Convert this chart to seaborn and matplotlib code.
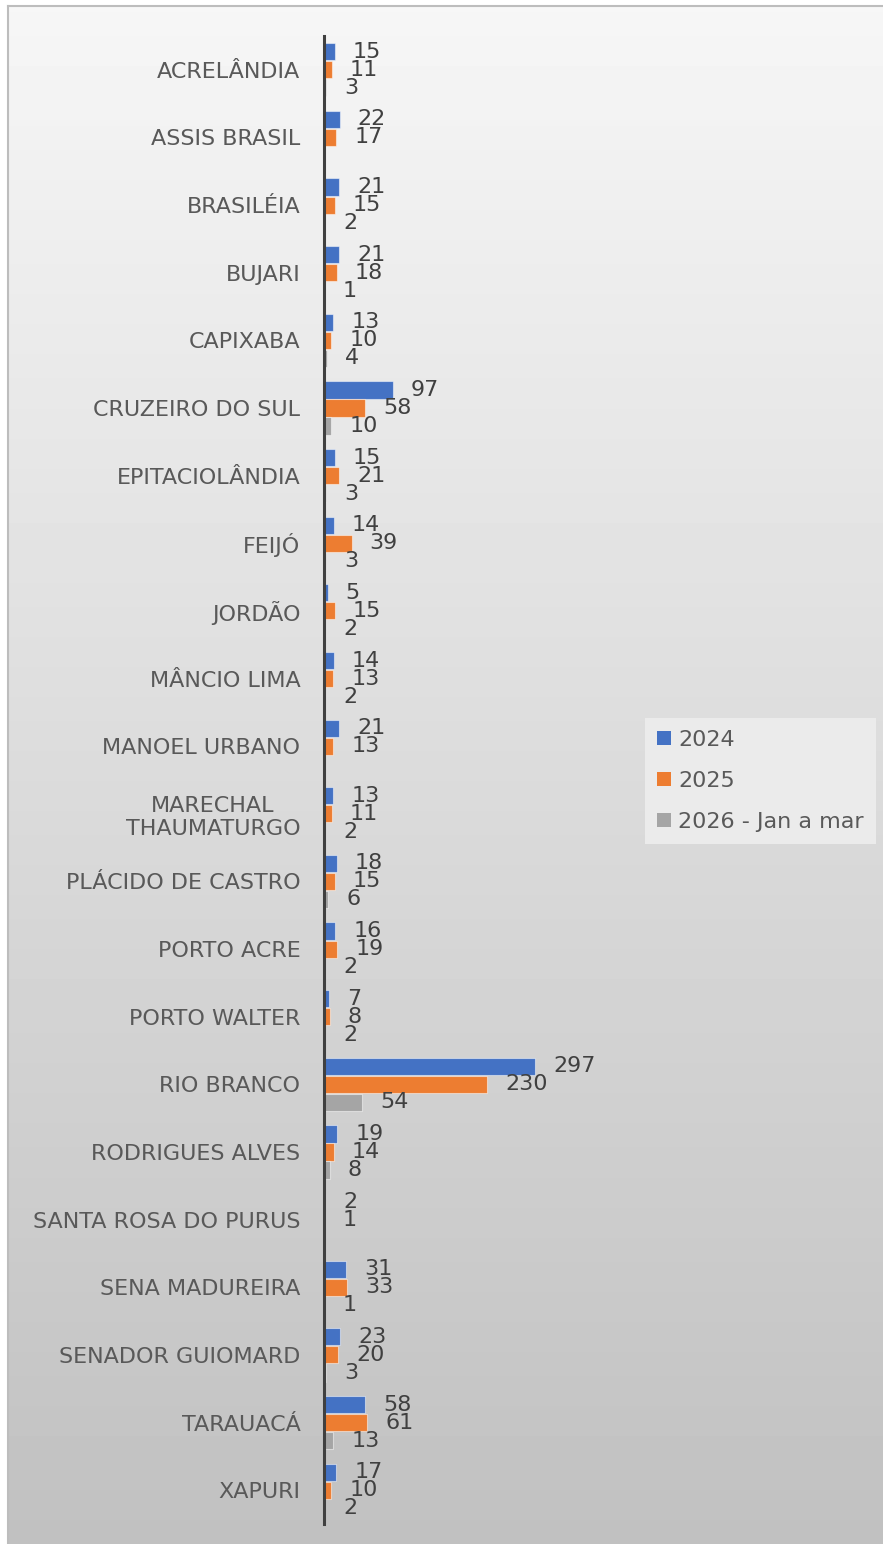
import numpy as np
import pandas as pd
import matplotlib
matplotlib.use("Agg")
import matplotlib.pyplot as plt
from matplotlib.patches import Patch
import seaborn as sns

municipios = [
    "ACRELÂNDIA", "ASSIS BRASIL", "BRASILÉIA", "BUJARI", "CAPIXABA",
    "CRUZEIRO DO SUL", "EPITACIOLÂNDIA", "FEIJÓ", "JORDÃO", "MÂNCIO LIMA",
    "MANOEL URBANO", "MARECHAL\nTHAUMATURGO", "PLÁCIDO DE CASTRO", "PORTO ACRE",
    "PORTO WALTER", "RIO BRANCO", "RODRIGUES ALVES", "SANTA ROSA DO PURUS",
    "SENA MADUREIRA", "SENADOR GUIOMARD", "TARAUACÁ", "XAPURI",
]
anos = ["2024", "2025", "2026 - Jan a mar"]
v2024 = [15, 22, 21, 21, 13, 97, 15, 14, 5, 14, 21, 13, 18, 16, 7, 297, 19, 2, 31, 23, 58, 17]
v2025 = [11, 17, 15, 18, 10, 58, 21, 39, 15, 13, 13, 11, 15, 19, 8, 230, 14, 1, 33, 20, 61, 10]
v2026 = [3, None, 2, 1, 4, 10, 3, 3, 2, 2, None, 2, 6, 2, 2, 54, 8, None, 1, 3, 13, 2]
cores = ["#4472C4", "#ED7D31", "#A5A5A5"]

linhas = []
for ano, vals in zip(anos, [v2024, v2025, v2026]):
    for m, v in zip(municipios, vals):
        if v is not None:
            linhas.append({"Municipio": m, "Ano": ano, "Valor": v})
df = pd.DataFrame(linhas)

sns.set_style("white")
plt.rcParams["font.family"] = ["DejaVu Sans"]

W, H = 883, 1544
fs = 16
fig = plt.figure(figsize=(W / 100, H / 100), dpi=100)

# fundo com degradê
bg = fig.add_axes([8 / W, 0, (W - 8) / W, (H - 6) / H], zorder=0)
grad = np.linspace(0.965, 0.755, 256).reshape(-1, 1)
bg.imshow(grad, cmap="gray", vmin=0, vmax=1, aspect="auto", extent=[0, 1, 0, 1])
bg.set_xticks([])
bg.set_yticks([])
for s in ["right", "bottom"]:
    bg.spines[s].set_visible(False)
for s in ["top", "left"]:
    bg.spines[s].set_color("#bdbdbd")
    bg.spines[s].set_linewidth(1.5)

ax = fig.add_axes([324 / W, 20 / H, 284 / W, 1488 / H], zorder=1)
ax.patch.set_alpha(0)
sns.barplot(
    data=df, y="Municipio", x="Valor", hue="Ano", order=municipios,
    hue_order=anos, palette=cores, saturation=1, orient="h", errorbar=None,
    width=0.8, gap=0.05, edgecolor=(1, 1, 1, 0.5), linewidth=0.8, ax=ax,
)
for c in ax.containers:
    ax.bar_label(c, fmt="%g", padding=13, fontsize=fs, color="#404040")

ax.set_xlim(0, 400)
ax.set_ylim(len(municipios) - 0.5, -0.5)
ax.set_xlabel("")
ax.set_ylabel("")
ax.set_xticks([])
ax.tick_params(axis="y", length=0, pad=17, labelsize=fs, labelcolor="#595959")
for lab in ax.get_yticklabels():
    lab.set_multialignment("center")
for s in ["top", "right", "bottom"]:
    ax.spines[s].set_visible(False)
ax.spines["left"].set_color("#404040")
ax.spines["left"].set_linewidth(2.2)
ax.spines["left"].set_zorder(5)

ax.get_legend().remove()
handles = [Patch(facecolor=c, edgecolor="none") for c in cores]
leg = fig.legend(
    handles, anos, loc="center left", bbox_to_anchor=(645 / W, 1 - 781 / H),
    frameon=True, fancybox=False, facecolor="#ebebeb", edgecolor="none",
    framealpha=1, fontsize=fs, labelcolor="#595959", handlelength=0.6,
    handleheight=0.6, handletextpad=0.35, labelspacing=0.95, borderpad=0.55,
    borderaxespad=0,
)

fig.savefig("out.png", dpi=100)
